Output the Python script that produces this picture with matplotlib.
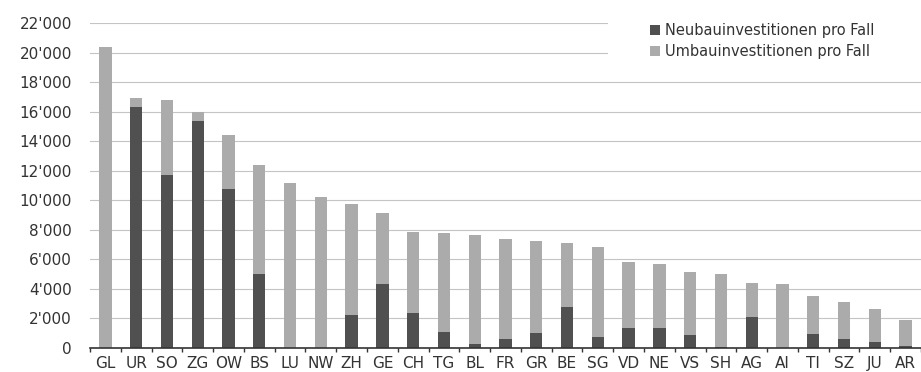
import matplotlib
matplotlib.use("Agg")
import matplotlib.pyplot as plt
from matplotlib.ticker import FuncFormatter, FixedLocator
from matplotlib.patches import Rectangle
import numpy as np

plt.rcParams['font.family'] = ['DejaVu Sans']

cantons = ["GL", "UR", "SO", "ZG", "OW", "BS", "LU", "NW", "ZH", "GE", "CH", "TG",
           "BL", "FR", "GR", "BE", "SG", "VD", "NE", "VS", "SH", "AG", "AI", "TI",
           "SZ", "JU", "AR"]
total = [20400, 16900, 16800, 16000, 14400, 12400, 11200, 10250, 9750, 9160, 7870, 7760,
         7650, 7360, 7260, 7130, 6860, 5840, 5690, 5120, 5000, 4420, 4350, 3520,
         3130, 2620, 1900]
neubau = [0, 16300, 11700, 15400, 10750, 5000, 0, 0, 2230, 4330, 2350, 1100,
          270, 610, 990, 2750, 770, 1370, 1370, 880, 50, 2120, 0, 950,
          590, 430, 140]
umbau = [t - n for t, n in zip(total, neubau)]

dark = "#505050"
light = "#ababab"

W, H = 921, 372
fig = plt.figure(figsize=(W / 100, H / 100), dpi=100)
ax = fig.add_axes([90 / W, 24 / H, 831 / W, 325 / H])

x = np.arange(len(cantons))
w = 0.4
ax.bar(x, neubau, width=w, color=dark, label="Neubauinvestitionen pro Fall", zorder=3)
ax.bar(x, umbau, width=w, bottom=neubau, color=light,
       label="Umbauinvestitionen pro Fall", zorder=3)

ax.set_xlim(-0.5, len(cantons) - 0.5)
ax.set_ylim(0, 22000)
ax.set_yticks(np.arange(0, 22001, 2000))
ax.yaxis.set_major_formatter(FuncFormatter(lambda v, p: f"{int(v):,}".replace(",", "'")))
ax.set_axisbelow(True)
ax.grid(axis="y", color="#c4c4c4", linewidth=0.8)

ax.set_xticks(x)
ax.set_xticklabels(cantons)
ax.xaxis.set_minor_locator(FixedLocator(np.arange(-0.5, len(cantons), 1.0)))
ax.tick_params(axis="x", which="major", length=0, pad=6, labelsize=11, labelcolor="#333333")
ax.tick_params(axis="x", which="minor", length=3, width=1, color="#333333", direction="out")
ax.tick_params(axis="y", length=0, pad=13, labelsize=11, labelcolor="#333333")

for s in ["top", "right", "left"]:
    ax.spines[s].set_visible(False)
ax.spines["bottom"].set_color("#333333")
ax.spines["bottom"].set_linewidth(1.2)
ax.spines["bottom"].set_zorder(4)

# white backing behind the legend area, hiding the upper gridlines there
ax.add_patch(Rectangle((608 / W, 1 - 68 / H), (W - 608) / W, 68 / H,
                       transform=fig.transFigure, facecolor="white",
                       edgecolor="none", zorder=2, clip_on=False))

leg = fig.legend(loc="upper left", bbox_to_anchor=(650 / W, 1 - 23 / H), fontsize=10.5,
                 frameon=False, handlelength=0.7, handleheight=0.7, handletextpad=0.3,
                 labelspacing=0.42, borderpad=0, borderaxespad=0)
for t in leg.get_texts():
    t.set_color("#333333")

fig.savefig("out.png", dpi=100, facecolor="white")
